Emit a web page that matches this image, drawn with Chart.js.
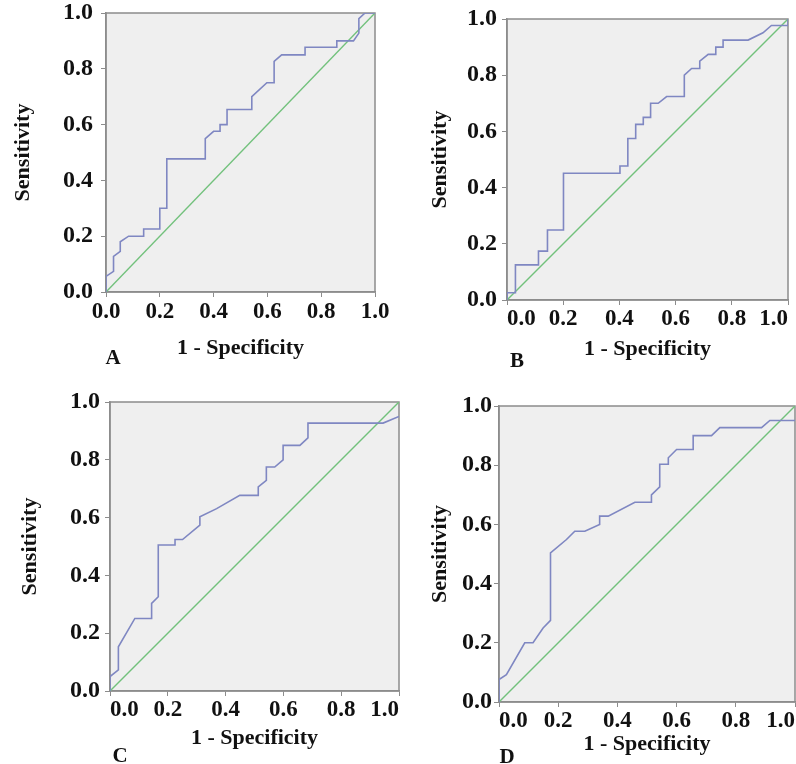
<!DOCTYPE html>
<html>
<head>
<meta charset="utf-8">
<title>ROC curves</title>
<script src="https://cdn.jsdelivr.net/npm/chart.js@4.4.1/dist/chart.umd.min.js"></script>
<style>
  body {
    margin: 0;
    background: #fff;
    width: 796px;
    height: 764px;
    position: relative;
    overflow: hidden;
  }
  canvas { position: absolute; }
  .tag {
    position: absolute;
    font: bold 21px "Liberation Serif", "Times New Roman", serif;
    line-height: 1;
    color: #111;
    transform: translate(-50%, -50%);
  }
</style>
</head>
<body>
<canvas id="rocA" width="398" height="380" style="left:0;top:0"></canvas>
<canvas id="rocB" width="396" height="380" style="left:400px;top:0"></canvas>
<canvas id="rocC" width="400" height="384" style="left:0;top:380px"></canvas>
<canvas id="rocD" width="396" height="384" style="left:400px;top:380px"></canvas>

<div class="tag" style="left:113px;top:357px">A</div>
<div class="tag" style="left:517px;top:360px">B</div>
<div class="tag" style="left:120px;top:755px">C</div>
<div class="tag" style="left:507px;top:756px">D</div>

<script>
// tick labels shared by both axes of every panel
const tickValues = [0, 0.2, 0.4, 0.6, 0.8, 1.0];

// reference (chance) line
const refX = [0, 1];
const refY = [0, 1];

// panel A
const aX = [0, 0, 0.028, 0.028, 0.053, 0.053, 0.084, 0.14, 0.14, 0.2, 0.2, 0.226, 0.226, 0.369, 0.369, 0.40, 0.424, 0.424, 0.45, 0.45, 0.542, 0.542, 0.598, 0.625, 0.625, 0.653, 0.74, 0.74, 0.858, 0.858, 0.92, 0.94, 0.94, 0.963, 1.0];
const aY = [0, 0.056, 0.074, 0.128, 0.146, 0.18, 0.20, 0.20, 0.226, 0.226, 0.30, 0.30, 0.477, 0.477, 0.55, 0.576, 0.576, 0.60, 0.60, 0.654, 0.654, 0.70, 0.75, 0.75, 0.827, 0.85, 0.85, 0.877, 0.877, 0.90, 0.90, 0.928, 0.98, 1.0, 1.0];

// panel B
const bX = [0, 0, 0.03, 0.03, 0.112, 0.112, 0.144, 0.144, 0.201, 0.201, 0.402, 0.402, 0.43, 0.43, 0.458, 0.458, 0.485, 0.485, 0.511, 0.511, 0.538, 0.568, 0.631, 0.631, 0.657, 0.686, 0.686, 0.716, 0.743, 0.743, 0.769, 0.769, 0.858, 0.911, 0.941, 1.0, 1.0];
const bY = [0, 0.026, 0.026, 0.125, 0.125, 0.174, 0.174, 0.249, 0.249, 0.451, 0.451, 0.477, 0.477, 0.575, 0.575, 0.625, 0.625, 0.65, 0.65, 0.70, 0.70, 0.724, 0.724, 0.80, 0.824, 0.824, 0.85, 0.874, 0.874, 0.90, 0.90, 0.925, 0.925, 0.951, 0.977, 0.977, 1.0];

// panel C
const cX = [0, 0, 0.029, 0.029, 0.086, 0.144, 0.144, 0.167, 0.167, 0.225, 0.225, 0.251, 0.311, 0.311, 0.369, 0.449, 0.513, 0.513, 0.541, 0.541, 0.57, 0.599, 0.599, 0.657, 0.685, 0.685, 0.945, 1.0];
const cY = [0, 0.05, 0.073, 0.153, 0.251, 0.251, 0.303, 0.326, 0.505, 0.505, 0.524, 0.524, 0.574, 0.603, 0.631, 0.677, 0.677, 0.706, 0.729, 0.775, 0.775, 0.80, 0.85, 0.85, 0.876, 0.927, 0.927, 0.95];

// panel D
const dX = [0, 0, 0.025, 0.087, 0.115, 0.149, 0.174, 0.174, 0.228, 0.256, 0.29, 0.34, 0.34, 0.369, 0.459, 0.515, 0.515, 0.543, 0.543, 0.572, 0.572, 0.60, 0.656, 0.656, 0.718, 0.746, 0.887, 0.915, 1.0];
const dY = [0, 0.076, 0.092, 0.20, 0.20, 0.25, 0.276, 0.504, 0.549, 0.577, 0.577, 0.60, 0.628, 0.628, 0.675, 0.675, 0.70, 0.727, 0.803, 0.803, 0.825, 0.853, 0.853, 0.90, 0.90, 0.927, 0.927, 0.951, 0.951];

const FONT = '"Liberation Serif", "Times New Roman", serif';
const AXIS_COLOR = "#8c8c8c";

// grey plot box like the SPSS output
const plotFrame = {
  id: "plotFrame",
  beforeDraw(chart) {
    const { ctx, chartArea: a } = chart;
    ctx.save();
    ctx.fillStyle = "#efefef";
    ctx.fillRect(a.left, a.top, a.width, a.height);
    ctx.strokeStyle = AXIS_COLOR;
    ctx.lineWidth = 1.5;
    ctx.strokeRect(a.left, a.top, a.width, a.height);
    ctx.restore();
  },
};

function toPoints(xs, ys) {
  return xs.map((x, i) => ({ x: x, y: ys[i] }));
}

function makeRoc(id, xs, ys, opt) {
  const ctx = document.getElementById(id).getContext("2d");

  return new Chart(ctx, {
    type: "scatter",
    data: {
      datasets: [
        {
          data: toPoints(xs, ys),
          showLine: true,
          borderColor: "#7f87c2",
          borderWidth: 1.6,
          pointRadius: 0,
          tension: 0,
        },
        {
          data: toPoints(refX, refY),
          showLine: true,
          borderColor: "#72c17c",
          borderWidth: 1.4,
          pointRadius: 0,
        },
      ],
    },
    options: {
      responsive: false,
      animation: false,
      devicePixelRatio: 1,
      layout: {
        padding: { top: opt.padTop, right: opt.padRight, left: 0, bottom: 0 },
      },
      plugins: {
        legend: { display: false },
        tooltip: { enabled: false },
      },
      scales: {
        x: {
          type: "linear",
          min: 0,
          max: 1,
          afterBuildTicks: s => { s.ticks = tickValues.map(v => ({ value: v })); },
          afterFit: s => {
            s.height = opt.xHeight;
            s.paddingLeft = 0;
            s.paddingRight = 0;
          },
          border: { display: true, color: AXIS_COLOR, width: 1.5 },
          grid: { drawOnChartArea: false, drawTicks: true, tickLength: 5, color: AXIS_COLOR },
          ticks: {
            autoSkip: false,
            maxRotation: 0,
            align: opt.xAlign,
            padding: opt.xTickPad,
            color: "#111",
            font: { family: FONT, size: 23, weight: "bold" },
            callback: v => Number(v).toFixed(1),
          },
          title: {
            display: true,
            text: "1 - Specificity",
            color: "#111",
            font: { family: FONT, size: 22, weight: "bold" },
            padding: { top: 0, bottom: opt.xTitlePad },
          },
        },
        y: {
          type: "linear",
          min: 0,
          max: 1,
          afterBuildTicks: s => { s.ticks = tickValues.map(v => ({ value: v })); },
          afterFit: s => {
            s.width = opt.yWidth;
            s.paddingTop = 0;
            s.paddingBottom = 0;
          },
          border: { display: true, color: AXIS_COLOR, width: 1.5 },
          grid: { drawOnChartArea: false, drawTicks: true, tickLength: 5, color: AXIS_COLOR },
          ticks: {
            autoSkip: false,
            padding: opt.yTickPad,
            color: "#111",
            font: { family: FONT, size: 24, weight: "bold" },
            callback: v => Number(v).toFixed(1),
          },
          title: {
            display: true,
            text: "Sensitivity",
            color: "#111",
            font: { family: FONT, size: 22, weight: "bold" },
            padding: { top: opt.yTitlePad, bottom: 0 },
          },
        },
      },
    },
    plugins: [plotFrame],
  });
}

makeRoc("rocA", aX, aY, { padTop: 13, padRight: 23, yWidth: 106, xHeight: 88, xAlign: "center", xTickPad: 1, yTickPad: 8, xTitlePad: 18, yTitlePad: 10 });
makeRoc("rocB", bX, bY, { padTop: 19, padRight: 8, yWidth: 107, xHeight: 80, xAlign: "inner", xTickPad: 0, yTickPad: 5, xTitlePad: 17, yTitlePad: 27 });
makeRoc("rocC", cX, cY, { padTop: 22, padRight: 1, yWidth: 110, xHeight: 73, xAlign: "inner", xTickPad: 0, yTickPad: 5, xTitlePad: 12, yTitlePad: 17 });
makeRoc("rocD", dX, dY, { padTop: 26, padRight: 1, yWidth: 99, xHeight: 62, xAlign: "inner", xTickPad: 0, yTickPad: 2, xTitlePad: 6, yTitlePad: 27 });
</script>
</body>
</html>
